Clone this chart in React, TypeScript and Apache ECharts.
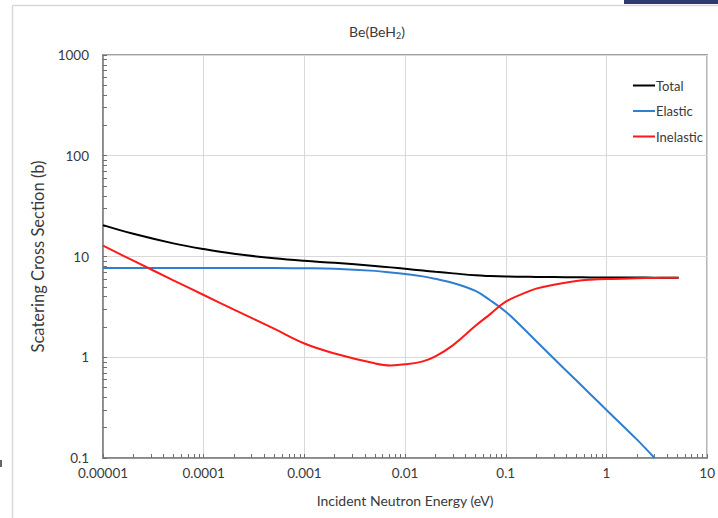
import React, { useEffect, useRef } from "react";
import * as echarts from "echarts";

const titleText = "Be(BeH{sub|2})";
const xAxisName = "Incident Neutron Energy (eV)";
const yAxisName = "Scatering Cross Section (b)";
const xTickLabels = ["0.00001", "0.0001", "0.001", "0.01", "0.1", "1", "10"];
const yTickLabels = ["0.1", "1", "10", "100", "1000"];

const energy = [1e-5, 2e-5, 5e-5, 1e-4, 2e-4, 5e-4, 1e-3, 2e-3, 5e-3, 0.0072, 0.01, 0.015, 0.02, 0.03, 0.05, 0.07, 0.1, 0.15, 0.2, 0.3, 0.5, 0.7, 1, 2, 3, 5.2];
const totalXS = [20.5, 16.8, 13.5, 11.85, 10.65, 9.6, 9.05, 8.65, 8.05, 7.8, 7.55, 7.25, 7.05, 6.8, 6.5, 6.4, 6.33, 6.3, 6.27, 6.25, 6.22, 6.2, 6.2, 6.18, 6.17, 6.17];
const elasticXS = [7.7, 7.7, 7.7, 7.7, 7.7, 7.7, 7.65, 7.55, 7.2, 6.95, 6.7, 6.35, 6.0, 5.45, 4.55, 3.68, 2.83, 1.93, 1.45, 0.97, 0.59, 0.425, 0.3, 0.153, 0.1];
const inelasticXS = [12.8, 9.1, 5.8, 4.15, 2.97, 1.92, 1.37, 1.09, 0.87, 0.83, 0.85, 0.91, 1.02, 1.32, 2.05, 2.68, 3.56, 4.3, 4.8, 5.25, 5.7, 5.88, 5.98, 6.08, 6.12, 6.17];

const seriesNames = ["Total", "Elastic", "Inelastic"];
const seriesColors = ["#000000", "#2e7fcf", "#ff1a1a"];

const pairs = (ys: number[]) => ys.map((y, i) => [energy[i], y]);

export default function App() {
  const ref = useRef<HTMLDivElement>(null);
  useEffect(() => {
    if (!ref.current) return;
    const chart = echarts.init(ref.current, null, { renderer: "svg" });
    const font = "Lato, 'Liberation Sans', sans-serif";
    const textColor = "#3a3a3a";
    const data = [totalXS, elasticXS, inelasticXS];
    chart.setOption({
      animation: false,
      backgroundColor: "#ffffff",
      textStyle: { fontFamily: font },
      title: {
        text: titleText,
        left: 372,
        top: 17,
        textAlign: "center",
        textStyle: {
          fontFamily: font,
          fontSize: 14,
          fontWeight: "normal",
          color: textColor,
          rich: {
            sub: { fontSize: 9, color: textColor, fontFamily: font, padding: [9, 0, 0, 0] },
          },
        },
      },
      legend: {
        orient: "vertical",
        left: 628,
        top: 74,
        itemWidth: 22,
        itemHeight: 12,
        itemGap: 12.5,
        icon: "path://M0,5 L22,5 L22,7 L0,7 Z",
        data: seriesNames,
        textStyle: { fontFamily: font, fontSize: 13, color: textColor, padding: [0, 0, 0, -4] },
      },
      grid: {
        left: 103,
        right: 7,
        top: 55,
        bottom: 60,
        show: true,
        borderColor: "#808080",
        borderWidth: 1.5,
        containLabel: false,
      },
      xAxis: {
        type: "log",
        logBase: 10,
        min: 1e-5,
        max: 10,
        splitNumber: 6,
        name: xAxisName,
        nameLocation: "middle",
        nameGap: 35,
        nameTextStyle: { fontFamily: font, fontSize: 14, color: textColor },
        axisLine: { show: true, lineStyle: { color: "#808080", width: 1.5 } },
        axisTick: { show: true, inside: true, length: 4, lineStyle: { color: "#707070" } },
        minorTick: { show: true, splitNumber: 9, length: 4, lineStyle: { color: "#707070" } },
        splitLine: { show: true, lineStyle: { color: "#d9d9d9", width: 1 } },
        axisLabel: {
          margin: 8,
          fontFamily: font,
          fontSize: 13.5,
          color: textColor,
          formatter: (v: number) => xTickLabels[Math.round(Math.log10(v)) + 5] ?? "",
        },
      },
      yAxis: {
        type: "log",
        logBase: 10,
        min: 0.1,
        max: 1000,
        splitNumber: 4,
        name: yAxisName,
        nameLocation: "middle",
        nameGap: 53,
        nameTextStyle: { fontFamily: font, fontSize: 16.5, color: textColor },
        axisLine: { show: true, lineStyle: { color: "#808080", width: 1.5 } },
        axisTick: { show: true, inside: true, length: 4, lineStyle: { color: "#707070" } },
        minorTick: { show: true, splitNumber: 9, length: 4, lineStyle: { color: "#707070" } },
        splitLine: { show: true, lineStyle: { color: "#d9d9d9", width: 1 } },
        axisLabel: {
          margin: 14,
          fontFamily: font,
          fontSize: 13.5,
          color: textColor,
          formatter: (v: number) => yTickLabels[Math.round(Math.log10(v)) + 1] ?? "",
        },
      },
      series: seriesNames.map((name, i) => ({
        name,
        type: "line",
        data: pairs(data[i]),
        smooth: 0.4,
        symbol: "none",
        lineStyle: { color: seriesColors[i], width: 2 },
        itemStyle: { color: seriesColors[i] },
        z: 2 + i,
      })),
      graphic: [
        { type: "line", shape: { x1: 12.5, y1: 5, x2: 12.5, y2: 518 }, style: { stroke: "#d9d9d9", lineWidth: 1.5 } },
        { type: "line", shape: { x1: 12, y1: 5.5, x2: 718, y2: 5.5 }, style: { stroke: "#d9d9d9", lineWidth: 1.5 } },
        { type: "rect", shape: { x: 624, y: 0, width: 94, height: 4 }, style: { fill: "#2f3a6d" } },
        { type: "rect", shape: { x: 0, y: 460, width: 2, height: 7 }, style: { fill: "#666666" } },
      ],
    });
    return () => chart.dispose();
  }, []);
  return (
    <div
      ref={ref}
      style={{ position: "fixed", left: 0, top: 0, width: 718, height: 518, background: "#fff" }}
    />
  );
}
